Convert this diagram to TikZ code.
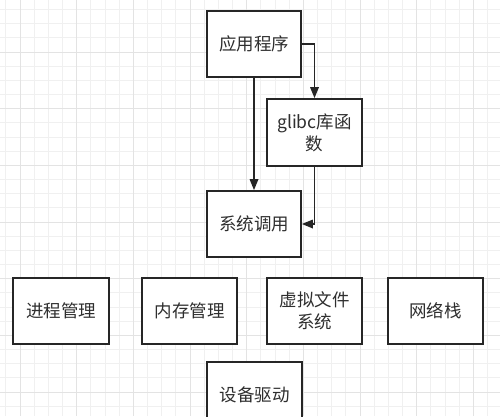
\documentclass[tikz,border=0pt]{standalone}
\usepackage{fontspec}
\setmainfont{Noto Sans CJK SC}
\usetikzlibrary{arrows.meta}
\definecolor{minorgrid}{HTML}{F0F0F0}
\definecolor{majorgrid}{HTML}{E3E3E3}
\definecolor{linecol}{HTML}{262626}
\definecolor{textcol}{HTML}{2E2E2E}
\begin{document}
\begin{tikzpicture}[x=1pt,y=-1pt,
  box/.style={draw=linecol, line width=1.7pt, fill=white, minimum width=94pt, minimum height=66pt,
    inner sep=2pt, align=center, text=textcol, font=\fontsize{17.5}{22}\selectfont},
  conn/.style={draw=linecol, line width=1.7pt, -{Triangle[length=11pt,width=8.5pt]}}]
\useasboundingbox (0,0) rectangle (500,416);
\clip (0,0) rectangle (500,416);
\fill[white] (0,0) rectangle (500,416);
% grid
\foreach \i in {0,...,36} {
  \pgfmathsetmacro{\xx}{5.83+14.167*\i}
  \draw[minorgrid, line width=0.8pt] (\xx,0) -- (\xx,416);
}
\foreach \i in {0,...,30} {
  \pgfmathsetmacro{\yy}{9.5+14.167*\i}
  \draw[minorgrid, line width=0.8pt] (0,\yy) -- (500,\yy);
}
\foreach \i in {0,...,9} {
  \pgfmathsetmacro{\xx}{20+56.667*\i}
  \draw[majorgrid, line width=1pt] (\xx,0) -- (\xx,416);
}
\foreach \i in {-1,...,7} {
  \pgfmathsetmacro{\yy}{52+56.667*\i}
  \draw[majorgrid, line width=1pt] (0,\yy) -- (500,\yy);
}
% nodes
\node[box] (app) at (254,44) {应用程序};
\node[box, minimum width=95pt, minimum height=67pt] (glibc) at (314.5,132.5) {glibc库函\\数};
\node[box] (sys) at (254,224) {系统调用};
\node[box, minimum width=96pt] (proc) at (61,311) {进程管理};
\node[box, minimum width=95pt] (mem) at (189.5,311) {内存管理};
\node[box, minimum width=95pt] (vfs) at (314.5,311) {虚拟文件\\系统};
\node[box, minimum width=95pt] (net) at (435.5,311) {网络栈};
\node[box, minimum width=95pt] (dev) at (254.5,395) {设备驱动};
% connectors
\draw[conn] (app.east) -| (glibc.north);
\draw[conn] (app.south) -- (sys.north);
\draw[conn] (glibc.south) |- (sys.east);
\end{tikzpicture}
\end{document}
